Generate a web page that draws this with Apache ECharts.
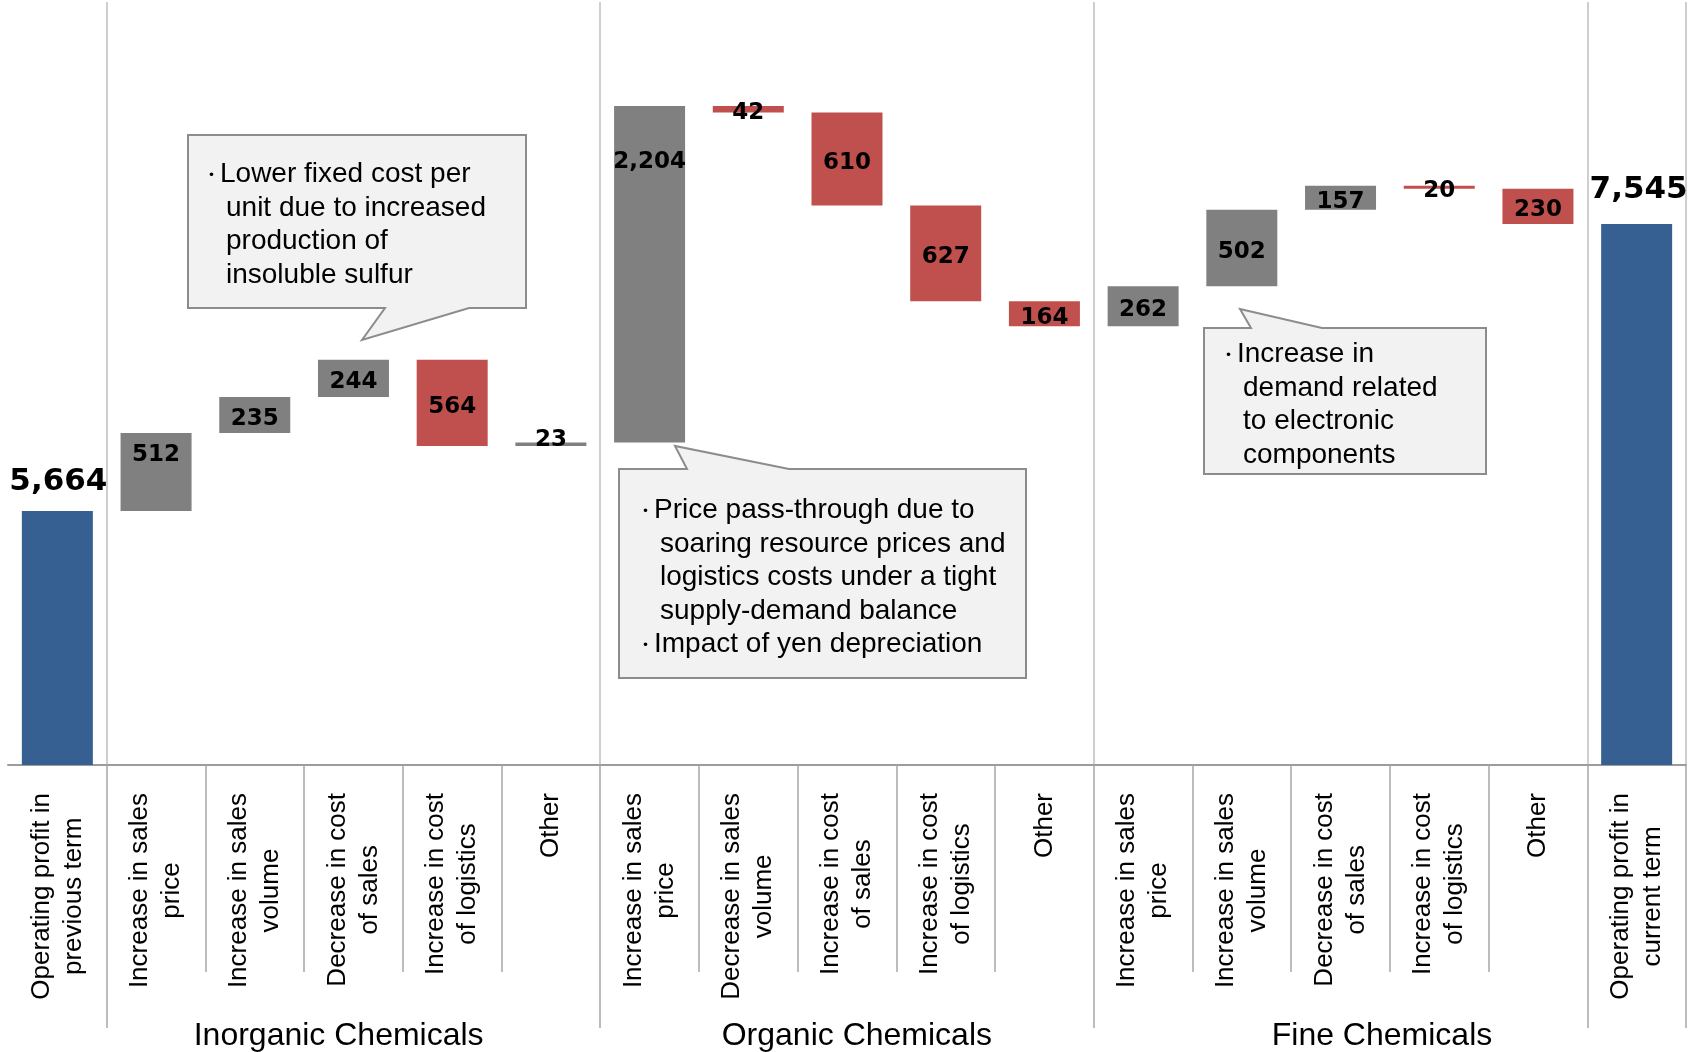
<!DOCTYPE html>
<html>
<head>
<meta charset="utf-8">
<title>Operating profit bridge by segment</title>
<script src="https://cdn.jsdelivr.net/npm/echarts@6/dist/echarts.min.js"></script>
<style>
  html, body { margin: 0; padding: 0; background: #ffffff; }
  #chart { width: 1694px; height: 1052px; }
</style>
</head>
<body>
<div id="chart"></div>
<script>
// ---- data -------------------------------------------------------------
const categories = [
  'Operating profit in\nprevious term',
  'Increase in sales\nprice', 'Increase in sales\nvolume', 'Decrease in cost\nof sales', 'Increase in cost\nof logistics', 'Other',
  'Increase in sales\nprice', 'Decrease in sales\nvolume', 'Increase in cost\nof sales', 'Increase in cost\nof logistics', 'Other',
  'Increase in sales\nprice', 'Increase in sales\nvolume', 'Decrease in cost\nof sales', 'Increase in cost\nof logistics', 'Other',
  'Operating profit in\ncurrent term'
];
const groups = ['Inorganic Chemicals', 'Organic Chemicals', 'Fine Chemicals'];

const prevProfit = 5664;
const inorganic = [512, 235, 244, -564, 23];
const organic   = [2204, -42, -610, -627, -164];
const fine      = [262, 502, 157, -20, -230];
const currProfit = 7545;

// ---- layout / styling --------------------------------------------------
const SANS = "'Liberation Sans', Arial, sans-serif";
const NUM = "'DejaVu Sans', Verdana, sans-serif";
const COLOR_UP = '#808080';
const COLOR_DOWN = '#C0504D';
const COLOR_TOTAL = '#376092';

// first category index of each segment (and of the closing total)
const groupStarts = [1, 6, 11, 16];
// where each segment title sits on the 0..17 band scale
const groupLabelAt = [3.35, 8.6, 13.92];

// labels that sit near the top of their bar instead of the middle
const topLabels = { 1: 7, 6: 40 };
// small vertical nudges for labels on hairline bars
const labelNudge = { 5: -4 };

// ---- waterfall build ----------------------------------------------------
const changes = [].concat(inorganic, organic, fine);
const baseData = [0];
const barData = [{
  value: prevProfit,
  shown: prevProfit,
  itemStyle: { color: COLOR_TOTAL },
  label: { position: 'top', distance: 14, fontSize: 31, offset: [1, 0] }
}];
let running = prevProfit;
changes.forEach(function (d, k) {
  const idx = k + 1;
  const start = running;
  const end = running + d;
  baseData.push(Math.min(start, end));
  const item = {
    value: Math.abs(d),
    shown: Math.abs(d),
    itemStyle: { color: d >= 0 ? COLOR_UP : COLOR_DOWN }
  };
  if (topLabels[idx] !== undefined) {
    item.label = { position: 'insideTop', distance: topLabels[idx] };
  }
  if (labelNudge[idx] !== undefined) {
    item.label = Object.assign(item.label || {}, { offset: [0, labelNudge[idx]] });
  }
  barData.push(item);
  running = end;
});
baseData.push(0);
barData.push({
  value: currProfit,
  shown: currProfit,
  itemStyle: { color: COLOR_TOTAL },
  label: { position: 'top', distance: 19, fontSize: 31, offset: [2, 0] }
});

function richLines(text) {
  return text.split('\n').map(function (l) { return '{c|' + l + '}'; }).join('\n');
}

// ---- callouts -----------------------------------------------------------
function calloutText(x, y, lines) {
  const rows = lines.map(function (l) {
    if (l.charAt(0) === '・') {
      return '{b|・}{t|' + l.slice(1) + '}';
    }
    return '{i| }{t|' + l + '}';
  });
  return {
    type: 'text',
    x: x,
    y: y,
    z: 20,
    style: {
      text: rows.join('\n'),
      align: 'left',
      verticalAlign: 'top',
      rich: {
        b: { fontSize: 17, fontFamily: "'Noto Sans CJK JP', sans-serif", fill: '#000', lineHeight: 33.5 },
        i: { fontSize: 28, width: 23, fontFamily: SANS, fill: '#000', lineHeight: 33.5 },
        t: { fontSize: 28, fontFamily: SANS, fill: '#000', lineHeight: 33.5 }
      }
    }
  };
}
function bubble(points) {
  return {
    type: 'polygon',
    z: 19,
    shape: { points: points },
    style: { fill: '#F2F2F2', stroke: '#8C8C8C', lineWidth: 2 }
  };
}

const noteInorganic = ['・Lower fixed cost per', 'unit due to increased', 'production of', 'insoluble sulfur'];
const noteOrganic = ['・Price pass-through due to', 'soaring resource prices and', 'logistics costs under a tight', 'supply-demand balance', '・Impact of yen depreciation'];
const noteFine = ['・Increase in', 'demand related', 'to electronic', 'components'];

const graphics = [
  bubble([[188, 135], [526, 135], [526, 308], [469, 308], [362, 340], [385, 308], [188, 308]]),
  calloutText(203, 158, noteInorganic),
  bubble([[619, 469], [687, 469], [675, 446], [789, 469], [1026, 469], [1026, 678], [619, 678]]),
  calloutText(637, 494, noteOrganic),
  bubble([[1204, 328], [1251, 328], [1240, 309], [1322, 328], [1486, 328], [1486, 474], [1204, 474]]),
  calloutText(1220, 338, noteFine)
];

// ---- chart --------------------------------------------------------------
const chart = echarts.init(document.getElementById('chart'));
chart.setOption({
  animation: false,
  backgroundColor: '#ffffff',
  grid: { left: 8, right: 8, top: 2, bottom: 287, containLabel: false },
  xAxis: [
    {
      type: 'category',
      data: categories,
      axisLine: { show: true, lineStyle: { color: '#9C9C9C', width: 2 } },
      axisTick: {
        show: true,
        interval: function (i) { return i > 0; },
        length: 207,
        lineStyle: { color: '#A6A6A6', width: 1.5 }
      },
      splitLine: {
        show: true,
        interval: function (i) { return groupStarts.indexOf(i) >= 0; },
        lineStyle: { color: '#BFBFBF', width: 1.5 }
      },
      axisLabel: {
        interval: 0,
        rotate: 90,
        margin: 28,
        formatter: richLines,
        rich: {
          c: { align: 'center', fontSize: 26, fontFamily: SANS, color: '#000', lineHeight: 32 }
        }
      }
    },
    {
      type: 'value',
      min: 0,
      max: 17,
      position: 'bottom',
      axisLine: { show: false },
      splitLine: { show: false },
      axisTick: {
        show: true,
        customValues: groupStarts.concat([17]),
        length: 263,
        lineStyle: { color: '#A6A6A6', width: 1.5 }
      },
      axisLabel: {
        customValues: groupLabelAt,
        margin: 255,
        fontSize: 32,
        fontFamily: SANS,
        color: '#000',
        formatter: function (v) {
          const k = groupLabelAt.indexOf(v);
          return k >= 0 ? groups[k] : '';
        }
      }
    }
  ],
  yAxis: {
    type: 'value',
    min: 4000,
    max: 9000,
    show: false,
    splitLine: { show: false }
  },
  series: [
    {
      name: 'base',
      type: 'bar',
      stack: 'bridge',
      xAxisIndex: 0,
      barWidth: 71,
      silent: true,
      itemStyle: { color: 'rgba(0,0,0,0)' },
      data: baseData
    },
    {
      name: 'amount',
      type: 'bar',
      stack: 'bridge',
      xAxisIndex: 0,
      barWidth: 71,
      data: barData,
      label: {
        show: true,
        position: 'inside',
        offset: [0, 4],
        color: '#000',
        fontFamily: NUM,
        fontWeight: 'bold',
        fontSize: 23,
        formatter: function (p) { return p.data.shown.toLocaleString('en-US'); }
      }
    }
  ],
  graphic: graphics
});
</script>
</body>
</html>
